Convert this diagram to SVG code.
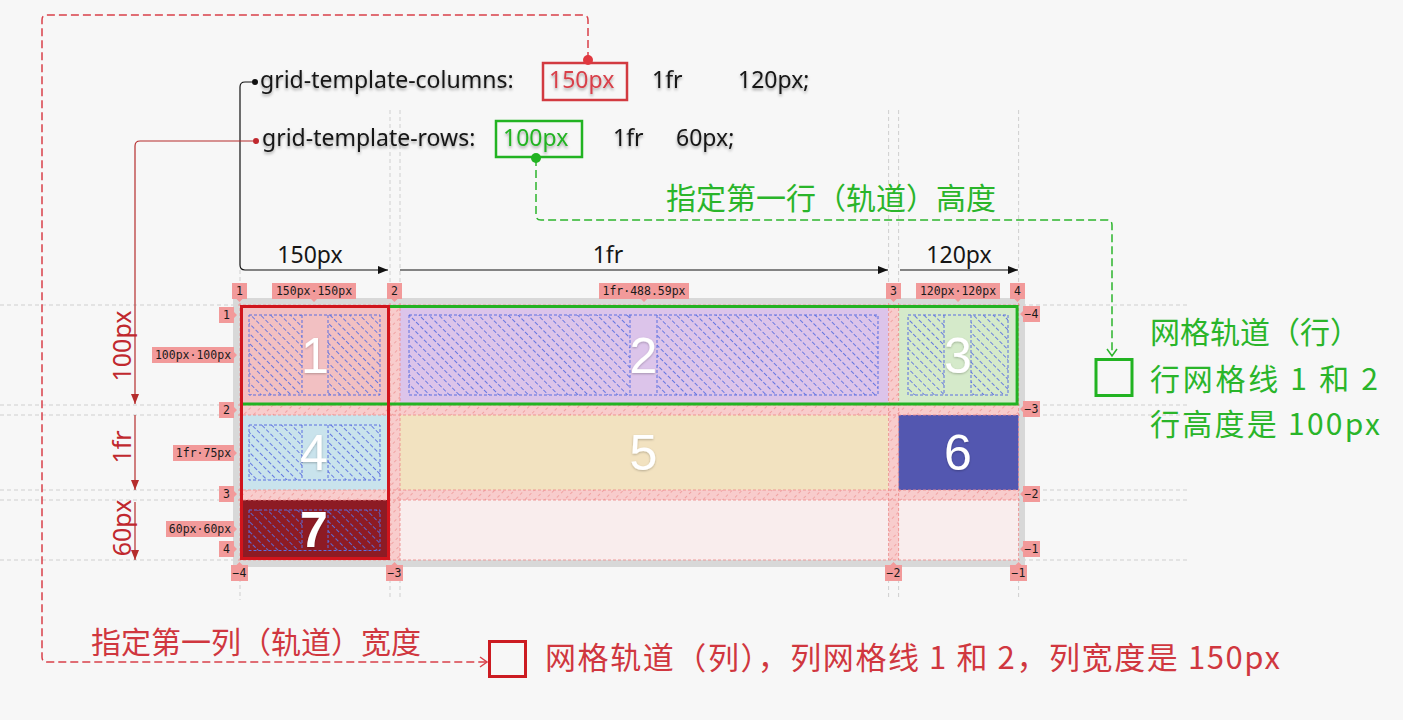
<svg xmlns="http://www.w3.org/2000/svg" width="1403" height="720" viewBox="0 0 1403 720">
<style>
.code{font-family:"Noto Sans","Open Sans",sans-serif;font-size:23px;fill:#161616}
.lbl{font-family:"Noto Sans","Open Sans",sans-serif;font-size:23px;fill:#161616;text-anchor:middle}
.rlbl{font-family:"Noto Sans","Open Sans",sans-serif;font-size:25px;fill:#c0282e;text-anchor:middle}
.cjk{font-family:"Noto Sans CJK SC",sans-serif;font-size:30px}
.badge{fill:#f29a9a}
.bt{font-family:"DejaVu Sans Mono","Liberation Mono",monospace;font-size:11.5px;fill:#1a1a1a;text-anchor:middle}
.dig{font-family:"Liberation Sans",Arial,sans-serif;font-size:50px;fill:#ffffff;text-anchor:middle}
.guide{stroke:#cfcfcf;stroke-width:1;stroke-dasharray:4 3;fill:none}
.gline{stroke:#ee8c8c;stroke-width:1;stroke-dasharray:3 2;fill:none;opacity:0.85}
.inner{fill:none;stroke:#5b6fe0;stroke-width:1;stroke-dasharray:3 2}
</style>
<defs>
<filter id="sh" x="-5%" y="-30%" width="110%" height="170%">
<feDropShadow dx="0" dy="2" stdDeviation="1.6" flood-color="#000" flood-opacity="0.35"/>
</filter>
<filter id="dsh" x="-20%" y="-20%" width="140%" height="140%">
<feDropShadow dx="0" dy="1" stdDeviation="1" flood-color="#000" flood-opacity="0.25"/>
</filter>
<pattern id="ih" width="12" height="7" patternUnits="userSpaceOnUse" patternTransform="rotate(45)">
<line x1="0" y1="3.5" x2="12" y2="3.5" stroke="#5b6fe0" stroke-width="0.9" stroke-dasharray="4 2"/>
</pattern>
<pattern id="gh" width="12" height="7" patternUnits="userSpaceOnUse" patternTransform="rotate(-45)">
<line x1="0" y1="3.5" x2="12" y2="3.5" stroke="#ef9e9e" stroke-width="0.9" stroke-dasharray="3 3"/>
</pattern>
<marker id="ab" markerWidth="10" markerHeight="8" refX="10" refY="4" orient="auto" markerUnits="userSpaceOnUse">
<path d="M0,0 L10,4 L0,8 z" fill="#111"/>
</marker>
<marker id="ar" markerWidth="10" markerHeight="8" refX="10" refY="4" orient="auto" markerUnits="userSpaceOnUse">
<path d="M0,0 L10,4 L0,8 z" fill="#b52d2d"/>
</marker>
<marker id="cg" markerWidth="12" markerHeight="12" refX="9" refY="6" orient="auto" markerUnits="userSpaceOnUse">
<path d="M2,1 L9,6 L2,11" fill="none" stroke="#2cb52c" stroke-width="1.5"/>
</marker>
<marker id="cr" markerWidth="12" markerHeight="12" refX="9" refY="6" orient="auto" markerUnits="userSpaceOnUse">
<path d="M2,1 L9,6 L2,11" fill="none" stroke="#d9404a" stroke-width="1.5"/>
</marker>
</defs>
<rect width="1403" height="720" fill="#f7f7f7"/>

<g id="guides">
<path class="guide" d="M0,305 H1190 M0,405 H1190 M0,415 H1190 M0,490 H1190 M0,500 H1190 M0,560 H1190"/>
<path class="guide" d="M390,110 V600 M400,110 V600 M888.6,110 V600 M898.6,110 V600 M1018.6,110 V600 M240,270 V600"/>
</g>

<g id="grid">
<rect x="233" y="298" width="792" height="269" fill="#d8d8d8"/>
<rect x="240" y="305" width="778.6" height="255" fill="#f9eded"/>
<g id="gaps">
<rect x="390" y="305" width="10" height="255" fill="#f8cccc"/>
<rect x="888.6" y="305" width="10" height="255" fill="#f8cccc"/>
<rect x="240" y="405" width="778.6" height="10" fill="#f8cccc"/>
<rect x="240" y="490" width="778.6" height="10" fill="#f8cccc"/>
<rect x="390" y="305" width="10" height="255" fill="url(#gh)"/>
<rect x="888.6" y="305" width="10" height="255" fill="url(#gh)"/>
<rect x="240" y="405" width="778.6" height="10" fill="url(#gh)"/>
<rect x="240" y="490" width="778.6" height="10" fill="url(#gh)"/>
</g>
<g id="item1">
<rect x="240" y="305" width="150" height="100" fill="#f2c0c2"/>
<rect x="249" y="315" width="53" height="80" fill="url(#ih)"/>
<rect x="328" y="315" width="52" height="80" fill="url(#ih)"/>
<rect class="inner" x="249" y="315" width="131" height="80"/>
<path class="inner" d="M302,315 V395 M328,315 V395"/>
<text class="dig" x="315" y="373" filter="url(#dsh)">1</text>
</g>
<g id="item2">
<rect x="400" y="305" width="488.6" height="100" fill="#dcc4ea"/>
<rect x="409" y="315" width="221" height="80" fill="url(#ih)"/>
<rect x="657" y="315" width="221" height="80" fill="url(#ih)"/>
<rect class="inner" x="409" y="315" width="469" height="80"/>
<path class="inner" d="M630,315 V395 M657,315 V395"/>
<text class="dig" x="643.5" y="373" filter="url(#dsh)">2</text>
</g>
<g id="item3">
<rect x="898.6" y="305" width="120" height="100" fill="#d5eaca"/>
<rect x="908" y="315" width="36" height="80" fill="url(#ih)"/>
<rect x="971" y="315" width="37" height="80" fill="url(#ih)"/>
<rect class="inner" x="908" y="315" width="100" height="80"/>
<path class="inner" d="M944,315 V395 M971,315 V395"/>
<text class="dig" x="958" y="373" filter="url(#dsh)">3</text>
</g>
<g id="item4">
<rect x="240" y="415" width="150" height="75" fill="#c9e3ec"/>
<rect x="249" y="425" width="53" height="55" fill="url(#ih)"/>
<rect x="328" y="425" width="52" height="55" fill="url(#ih)"/>
<rect class="inner" x="249" y="425" width="131" height="55"/>
<path class="inner" d="M302,425 V480 M328,425 V480"/>
<text class="dig" x="314" y="470" filter="url(#dsh)">4</text>
</g>
<g id="item5">
<rect x="400" y="415" width="488.6" height="75" fill="#f2e2c0"/>
<text class="dig" x="643.5" y="470" filter="url(#dsh)">5</text>
</g>
<g id="item6">
<rect x="898.6" y="415" width="120" height="75" fill="#5357b0"/>
<text class="dig" x="958" y="470" filter="url(#dsh)">6</text>
</g>
<g id="item7">
<rect x="240" y="500" width="150" height="60" fill="#8d1b24"/>
<rect x="249" y="510" width="53" height="40.5" fill="url(#ih)"/>
<rect x="328" y="510" width="52" height="40.5" fill="url(#ih)"/>
<rect class="inner" x="249" y="510" width="131" height="40.5"/>
<path class="inner" d="M302,510 V550.5 M328,510 V550.5"/>
<text class="dig" x="314" y="547" font-weight="bold" filter="url(#dsh)">7</text>
</g>
<g id="gridlines">
<path class="gline" d="M240,303 V560 M390,303 V560 M400,303 V560 M888.6,303 V560 M898.6,303 V560 M1018.6,303 V560"/>
<path class="gline" d="M238,305 H1020 M238,405 H1020 M238,415 H1020 M238,490 H1020 M238,500 H1020 M238,560 H1020"/>
</g>
</g>

<g id="rowTrack">
<rect x="241.5" y="306.5" width="775.6" height="97.5" fill="none" stroke="#22b322" stroke-width="3"/>
</g>
<g id="colTrack">
<rect x="241.5" y="306.5" width="147" height="252" fill="none" stroke="#d0141c" stroke-width="3"/>
</g>

<g id="badges">
<path class="badge" d="M236.5,299 h6 l-3,3 z M311,299 h6 l-3,3 z M391.5,299 h6 l-3,3 z M641,299 h6 l-3,3 z M890.5,299 h6 l-3,3 z M955,299 h6 l-3,3 z M1014.5,299 h6 l-3,3 z"/>
<path class="badge" d="M234,312 v6 l3,-3 z M234,352 v6 l3,-3 z M234,407 v6 l3,-3 z M234,450 v6 l3,-3 z M234,491 v6 l3,-3 z M234,526 v6 l3,-3 z M234,546 v6 l3,-3 z"/>
<path class="badge" d="M1023,311 v6 l-3,-3 z M1023,406 v6 l-3,-3 z M1023,491 v6 l-3,-3 z M1023,546 v6 l-3,-3 z"/>
<path class="badge" d="M236.5,565 h6 l-3,-3 z M391.5,565 h6 l-3,-3 z M890.5,565 h6 l-3,-3 z M1015.5,565 h6 l-3,-3 z"/>
<rect class="badge" x="232" y="283" width="15" height="16"/><text class="bt" x="239.5" y="295">1</text>
<rect class="badge" x="272" y="283" width="84" height="16"/><text class="bt" x="314" y="295">150px·150px</text>
<rect class="badge" x="387" y="283" width="15" height="16"/><text class="bt" x="394.5" y="295">2</text>
<rect class="badge" x="599" y="283" width="90" height="16"/><text class="bt" x="644" y="295">1fr·488.59px</text>
<rect class="badge" x="886" y="283" width="15" height="16"/><text class="bt" x="893.5" y="295">3</text>
<rect class="badge" x="916" y="283" width="84" height="16"/><text class="bt" x="958" y="295">120px·120px</text>
<rect class="badge" x="1010" y="283" width="15" height="16"/><text class="bt" x="1017.5" y="295">4</text>

<rect class="badge" x="219" y="307" width="15" height="16"/><text class="bt" x="226.5" y="319">1</text>
<rect class="badge" x="152" y="347" width="82" height="16"/><text class="bt" x="193" y="359">100px·100px</text>
<rect class="badge" x="219" y="402" width="15" height="16"/><text class="bt" x="226.5" y="414">2</text>
<rect class="badge" x="173" y="445" width="61" height="16"/><text class="bt" x="203.5" y="457">1fr·75px</text>
<rect class="badge" x="219" y="486" width="15" height="16"/><text class="bt" x="226.5" y="498">3</text>
<rect class="badge" x="166" y="521" width="68" height="16"/><text class="bt" x="200" y="533">60px·60px</text>
<rect class="badge" x="219" y="541" width="15" height="16"/><text class="bt" x="226.5" y="553">4</text>

<rect class="badge" x="1023" y="306" width="17" height="16"/><text class="bt" x="1031.5" y="318">−4</text>
<rect class="badge" x="1023" y="401" width="17" height="16"/><text class="bt" x="1031.5" y="413">−3</text>
<rect class="badge" x="1023" y="486" width="17" height="16"/><text class="bt" x="1031.5" y="498">−2</text>
<rect class="badge" x="1023" y="541" width="17" height="16"/><text class="bt" x="1031.5" y="553">−1</text>

<rect class="badge" x="231" y="565" width="17" height="16"/><text class="bt" x="239.5" y="577">−4</text>
<rect class="badge" x="386" y="565" width="17" height="16"/><text class="bt" x="394.5" y="577">−3</text>
<rect class="badge" x="885" y="565" width="17" height="16"/><text class="bt" x="893.5" y="577">−2</text>
<rect class="badge" x="1010" y="565" width="17" height="16"/><text class="bt" x="1018.5" y="577">−1</text>
</g>

<g id="code">
<text class="code" x="260" y="88" filter="url(#sh)">grid-template-columns:</text>
<rect x="543" y="63" width="84" height="37" fill="none" stroke="#d23a40" stroke-width="2.5"/>
<text class="code" x="549" y="88" style="fill:#d8404a" filter="url(#sh)">150px</text>
<text class="code" x="652" y="88" filter="url(#sh)">1fr</text>
<text class="code" x="738" y="88" filter="url(#sh)">120px;</text>
<text class="code" x="262" y="146" filter="url(#sh)">grid-template-rows:</text>
<rect x="496" y="121" width="86" height="36" fill="none" stroke="#22b322" stroke-width="2.5"/>
<text class="code" x="503" y="146" style="fill:#22b322" filter="url(#sh)">100px</text>
<text class="code" x="613" y="146" filter="url(#sh)">1fr</text>
<text class="code" x="676" y="146" filter="url(#sh)">60px;</text>
</g>

<g id="connectors">
<path d="M252,82 H245 Q240,82 240,87 V265 Q240,270 245,270 H388" fill="none" stroke="#111" stroke-width="1.2" marker-end="url(#ab)"/>
<path d="M400,270 H888" fill="none" stroke="#111" stroke-width="1.2" marker-end="url(#ab)"/>
<path d="M900,270 H1018" fill="none" stroke="#111" stroke-width="1.2" marker-end="url(#ab)"/>
<circle cx="255" cy="82" r="3" fill="#111"/>
<path d="M253,141 H140 Q135,141 135,146 V404" fill="none" stroke="#b52d2d" stroke-width="1.2" marker-end="url(#ar)"/>
<path d="M135,415 V490" fill="none" stroke="#b52d2d" stroke-width="1.2" marker-end="url(#ar)"/>
<path d="M135,502 V560" fill="none" stroke="#b52d2d" stroke-width="1.2" marker-end="url(#ar)"/>
<circle cx="256" cy="141" r="3" fill="#c0282e"/>
<path d="M588,60 V20 Q588,15 583,15 H47 Q42,15 42,20 V657 Q42,662 47,662 H487" fill="none" stroke="#d9404a" stroke-width="1.5" stroke-dasharray="8 4" marker-end="url(#cr)"/>
<circle cx="588" cy="60" r="5" fill="#e0383f"/>
<path d="M536,158 V215 Q536,220 541,220 H1107 Q1112,220 1112,225 V356" fill="none" stroke="#2cb52c" stroke-width="1.5" stroke-dasharray="8 4" marker-end="url(#cg)"/>
<circle cx="536" cy="158" r="5" fill="#22b322"/>
</g>

<g id="trackLabels">
<text class="lbl" x="310" y="263">150px</text>
<text class="lbl" x="608" y="263">1fr</text>
<text class="lbl" x="959" y="263">120px</text>
<text class="rlbl" transform="translate(131,346) rotate(-90)">100px</text>
<text class="rlbl" transform="translate(131,447) rotate(-90)">1fr</text>
<text class="rlbl" transform="translate(131,528) rotate(-90)">60px</text>
</g>

<g id="notes">
<text class="cjk" x="831" y="209" text-anchor="middle" fill="#2ab52a">指定第一行（轨道）高度</text>
<rect x="1096" y="359.5" width="36" height="36" fill="none" stroke="#22b322" stroke-width="3"/>
<text class="cjk" x="1150" y="343" fill="#2ab52a">网格轨道（行）</text>
<text class="cjk" x="1150" y="390" fill="#2ab52a" textLength="228" lengthAdjust="spacing">行网格线 1 和 2</text>
<text class="cjk" x="1150" y="435" fill="#2ab52a" textLength="230" lengthAdjust="spacing">行高度是 100px</text>
<text class="cjk" x="256" y="653" text-anchor="middle" fill="#d0373f">指定第一列（轨道）宽度</text>
<rect x="489.5" y="641.5" width="36" height="35" fill="none" stroke="#cc1c22" stroke-width="3"/>
<text class="cjk" x="545" y="669" fill="#d0373f" style="font-size:31px" textLength="735" lengthAdjust="spacing">网格轨道（列），列网格线 1 和 2，列宽度是 150px</text>
</g>
</svg>
